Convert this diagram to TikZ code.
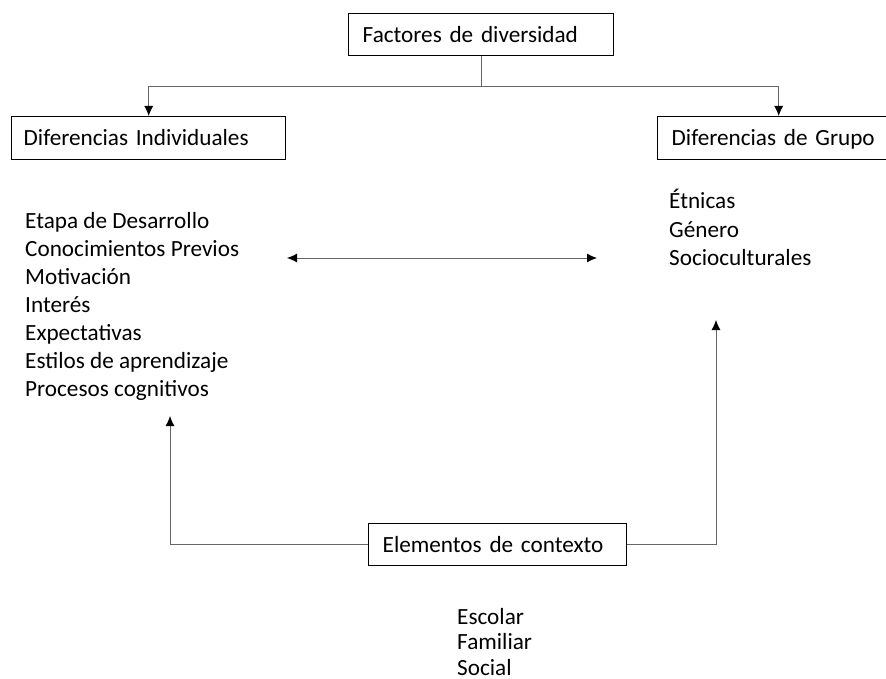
\documentclass[tikz,border=0pt]{standalone}
\usepackage{fontspec}
\setmainfont{Carlito}
\usetikzlibrary{arrows.meta}
\begin{document}
\begin{tikzpicture}[x=1pt,y=-1pt,
  box/.style={draw=black,line width=1.4pt,minimum height=42pt,inner xsep=14pt,text height=17pt,text depth=2pt,align=left,anchor=north west,font=\fontsize{23.2}{28}\selectfont},
  lst/.style={align=left,anchor=base west,inner sep=0pt},
  conn/.style={draw=black!60,line width=0.9pt},
  hd/.style={Latex[length=10pt,width=9pt,color=black]},
  tip/.style={-{Latex[length=10pt,width=9pt,color=black]}}]
\useasboundingbox (0,0) rectangle (886,679);
\clip (0,0) rectangle (886,679);
\node[box,minimum width=265pt,text width=237pt] (fac) at (348,13) {Factores de diversidad};
\node[box,minimum width=274pt,text width=250pt,inner xsep=12pt,minimum height=43pt] (ind) at (11,116) {Diferencias Individuales};
\node[box,minimum width=242pt,text width=214pt,minimum height=43pt] (gru) at (657,116) {Diferencias de Grupo};
\node[box,minimum width=258pt,text width=230pt] (ele) at (368,523) {Elementos de contexto};
% anchor base = baseline of the last line
\node[lst,font=\fontsize{23.2}{28}\selectfont] (li) at (25,396) {Etapa de Desarrollo\\Conocimientos Previos\\Motivación\\Interés\\Expectativas\\Estilos de aprendizaje\\Procesos cognitivos};
\node[lst,font=\fontsize{23.2}{28}\selectfont] (lg) at (669,265) {Étnicas\\Género\\Socioculturales};
\node[lst,font=\fontsize{23.2}{25.5}\selectfont] (lc) at (457,675) {Escolar\\Familiar\\Social};
\coordinate (split) at (481,86);
\coordinate (da) at (287,258);
\coordinate (db) at (597,258);
\coordinate (upl) at (170,416);
\coordinate (upr) at (716,320);
\draw[conn] (split |- fac.south) -- (split);
\draw[conn,tip] (split) -| (ind.north);
\draw[conn,tip] (split) -| (gru.north);
\draw[conn,{Latex[length=10pt,width=9pt,color=black]}-{Latex[length=10pt,width=9pt,color=black]}] (da) -- (db);
\draw[conn,tip] (ele.west) -| (upl);
\draw[conn,tip] (ele.east) -| (upr);
\end{tikzpicture}
\end{document}
